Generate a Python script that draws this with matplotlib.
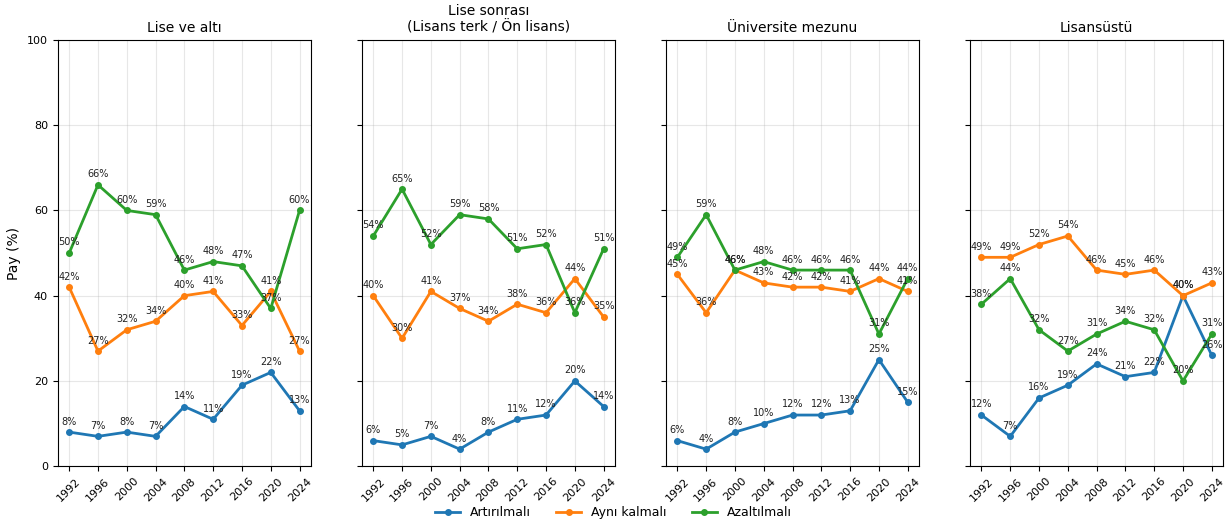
import matplotlib
matplotlib.use('Agg')
import matplotlib.pyplot as plt

years = [1992, 1996, 2000, 2004, 2008, 2012, 2016, 2020, 2024]
panel_titles = ['Lise ve altı', 'Lise sonrası\n(Lisans terk / Ön lisans)',
                'Üniversite mezunu', 'Lisansüstü']
series_names = ['Artırılmalı', 'Aynı kalmalı', 'Azaltılmalı']
colors = ['#1f77b4', '#ff7f0e', '#2ca02c']

# Artırılmalı / Aynı kalmalı / Azaltılmalı per education group
lise_alti = [[8, 7, 8, 7, 14, 11, 19, 22, 13],
             [42, 27, 32, 34, 40, 41, 33, 41, 27],
             [50, 66, 60, 59, 46, 48, 47, 37, 60]]
lise_sonrasi = [[6, 5, 7, 4, 8, 11, 12, 20, 14],
                [40, 30, 41, 37, 34, 38, 36, 44, 35],
                [54, 65, 52, 59, 58, 51, 52, 36, 51]]
universite = [[6, 4, 8, 10, 12, 12, 13, 25, 15],
              [45, 36, 46, 43, 42, 42, 41, 44, 41],
              [49, 59, 46, 48, 46, 46, 46, 31, 44]]
lisansustu = [[12, 7, 16, 19, 24, 21, 22, 40, 26],
              [49, 49, 52, 54, 46, 45, 46, 40, 43],
              [38, 44, 32, 27, 31, 34, 32, 20, 31]]
panels = [lise_alti, lise_sonrasi, universite, lisansustu]

fig, axes = plt.subplots(1, 4, figsize=(12.27, 5.25), dpi=100, sharey=True)
fig.subplots_adjust(left=0.047, right=0.997, top=0.924, bottom=0.112, wspace=0.2)

for ax, title, data in zip(axes, panel_titles, panels):
    for vals, name, c in zip(data, series_names, colors):
        ax.plot(years, vals, marker='o', markersize=4, linewidth=2, color=c, label=name)
        for x, y in zip(years, vals):
            ax.annotate(f'{y}%', (x, y), xytext=(0, 4), textcoords='offset points',
                        ha='center', va='bottom', fontsize=7, color='#222222')
    ax.set_title(title, fontsize=10)
    ax.set_xticks(years)
    ax.set_xticklabels([str(y) for y in years], rotation=45, fontsize=8)
    ax.tick_params(axis='y', labelsize=8)
    ax.set_ylim(0, 100)
    ax.set_yticks([0, 20, 40, 60, 80, 100])
    ax.grid(True, alpha=0.3)

axes[0].set_ylabel('Pay (%)', fontsize=10)
handles, labels = axes[0].get_legend_handles_labels()
fig.legend(handles, labels, loc='lower center', ncol=3, frameon=False, fontsize=9,
           bbox_to_anchor=(0.5, -0.01))
fig.savefig('out.png', dpi=100)
